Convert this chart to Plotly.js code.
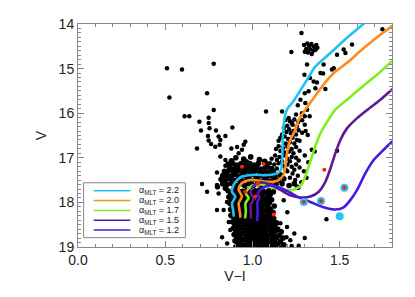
<!DOCTYPE html>
<html>
<head>
<meta charset="utf-8">
<script src="https://cdn.plot.ly/plotly-3.0.1.min.js"></script>
<style>
  html, body { margin: 0; padding: 0; background: #fff; }
  #cmd { width: 415px; height: 297px; }
</style>
</head>
<body>
<div id="cmd"></div>
<script>
// isochrone labels and colours (legend order)
const alphaLabels = ['2.2', '2.0', '1.7', '1.5', '1.2'];
const lineColors = ['#1fc3f2', '#ff8a1e', '#80ee1e', '#5c1a94', '#4a16e4'];

// isochrones, V-I and V
const a22VI = [1.645,1.542,1.447,1.361,1.313,1.265,1.232,1.200,1.185,1.176,1.172,1.170,1.165,1.150,1.110,1.070,1.020,0.978,0.940,0.912,0.892,0.883,0.902,0.883,0.890,0.893];
const a22V  = [13.97,14.31,14.65,14.95,15.25,15.55,15.75,15.90,16.10,16.40,16.80,17.10,17.25,17.33,17.38,17.39,17.38,17.39,17.42,17.50,17.61,17.76,17.87,18.02,18.20,18.32];
const a20VI = [1.820,1.733,1.638,1.542,1.466,1.399,1.351,1.303,1.265,1.246,1.217,1.198,1.189,1.178,1.150,1.112,1.070,1.036,0.985,0.950,0.928,0.921,0.940,0.921,0.928,0.931];
const a20V  = [13.99,14.24,14.54,14.87,15.10,15.40,15.66,15.92,16.15,16.37,16.60,16.90,17.20,17.38,17.50,17.54,17.53,17.51,17.50,17.54,17.62,17.72,17.87,18.02,18.22,18.34];
const a17VI = [1.830,1.800,1.714,1.619,1.542,1.475,1.435,1.390,1.355,1.335,1.320,1.305,1.275,1.230,1.170,1.110,1.050,1.000,0.975,0.962,0.978,0.960,0.962,0.958];
const a17V  = [14.79,14.84,15.14,15.44,15.70,15.92,16.15,16.45,16.80,17.05,17.22,17.40,17.63,17.72,17.72,17.66,17.60,17.62,17.70,17.80,17.90,18.02,18.20,18.36];
const a15VI = [1.820,1.800,1.733,1.660,1.600,1.542,1.504,1.475,1.447,1.418,1.380,1.332,1.275,1.217,1.160,1.100,1.050,1.015,0.995,0.990,1.007,0.990,0.990,0.992];
const a15V  = [15.43,15.47,15.70,15.92,16.11,16.34,16.60,16.90,17.24,17.54,17.76,17.87,17.89,17.84,17.72,17.60,17.55,17.60,17.70,17.80,17.91,18.06,18.20,18.36];
const a12VI = [1.820,1.800,1.752,1.695,1.647,1.600,1.561,1.523,1.475,1.408,1.332,1.256,1.198,1.150,1.103,1.074,1.045,1.030,1.040,1.028,1.030,1.026];
const a12V  = [16.57,16.64,16.82,17.05,17.35,17.72,17.95,18.11,18.16,18.11,17.99,17.87,17.74,17.66,17.62,17.65,17.72,17.80,17.90,18.00,18.20,18.42];

// stars [V-I, V]
const fieldStars = [
  [0.510,14.99],[0.596,15.02],[0.778,14.89],[0.524,15.65],[0.740,15.55],[0.778,15.93],
  [0.611,16.07],[0.638,16.07],[0.696,16.19],[0.749,16.10],[0.749,16.22],[0.754,16.34],[0.705,16.39],[0.791,16.39],[0.885,16.32],
  [0.745,16.51],[0.806,16.52],[0.845,16.51],[0.749,16.61],[0.763,16.69],[0.816,16.60],[0.787,16.75],[0.812,16.71],[0.682,16.79],
  [0.879,16.79],[0.912,16.76],[0.950,16.71],[0.959,16.64],[0.940,16.82],[0.816,16.97],[0.921,16.90],[0.845,17.05],[0.845,17.18],
  [0.892,17.24],[0.797,17.33],[0.854,17.42],[0.711,17.59],[0.740,17.76],[0.797,17.61],[0.806,17.80],[0.854,17.99],[0.835,18.17],
  [0.797,18.17],[0.873,18.29],[0.864,18.44],[0.873,18.62],[0.826,18.78],[0.855,18.92],
  [1.078,15.96],[1.170,15.96],[1.485,16.84],[1.357,16.86],[1.340,16.82],[1.424,18.38],[1.179,17.95],[1.160,18.47],
  [1.198,18.55],[1.217,18.85],[1.240,18.70],[1.265,18.97],[1.200,18.22],[1.300,18.80],[1.225,18.98],[1.195,18.78]
];
const giantStars = [
  [1.281,14.20],[1.223,14.63],[1.745,14.12],[1.296,14.47],[1.314,14.44],[1.326,14.50],[1.338,14.45],[1.352,14.51],[1.366,14.47],
  [1.308,14.56],[1.331,14.57],[1.349,14.60],[1.318,14.64],[1.340,14.67],[1.362,14.58],[1.300,14.62],[1.372,14.53],
  [1.571,14.46],[1.523,14.57],[1.533,14.65],[1.485,14.69],[1.408,14.91],[1.313,14.91],[1.390,15.10],[1.405,15.11],[1.456,15.02],
  [1.466,14.99],[1.298,15.14],[1.330,15.21],[1.351,15.29],[1.370,15.31],[1.361,15.44],[1.418,15.46],[1.322,15.51],[1.300,15.55],
  [1.275,15.70],[1.303,15.77],[1.313,15.92],[1.260,15.82],[1.284,16.00],[1.208,16.11],[1.227,16.22],[1.250,16.03],[1.300,16.07],
  [1.328,16.07],[1.317,16.49],
  [1.190,16.15],[1.215,16.18],[1.240,16.14],[1.262,16.20],[1.285,16.16],[1.230,16.26],[1.200,16.28],[1.255,16.30],[1.300,16.26],[1.180,16.33],
  [1.210,16.36],[1.235,16.40],[1.265,16.38],[1.220,16.45],[1.195,16.42],[1.250,16.48],[1.285,16.44],[1.170,16.48],[1.305,16.40],
  [1.160,16.55],[1.185,16.52],[1.205,16.58],[1.230,16.55],[1.255,16.60],[1.215,16.65],[1.190,16.68],[1.240,16.68],[1.270,16.62],[1.150,16.62],
  [1.150,16.74],[1.175,16.78],[1.200,16.75],[1.225,16.80],[1.250,16.76],[1.210,16.86],[1.185,16.88],[1.160,16.85],[1.235,16.90],[1.135,16.80],[1.270,16.84],
  [1.130,16.95],[1.155,16.98],[1.180,16.95],[1.200,17.02],[1.225,16.98],[1.250,17.00],[1.140,17.05],[1.170,17.08],[1.215,17.08],[1.110,17.02],[1.265,17.06],
  [1.100,17.12],[1.125,17.15],[1.150,17.12],[1.175,17.18],[1.200,17.15],[1.225,17.20],[1.250,17.15],[1.090,17.22],[1.140,17.24],[1.190,17.26],[1.240,17.27],[1.270,17.22],
  [1.300,16.95],[1.320,17.10],[1.295,17.30],[1.310,17.45],[1.200,17.30],[1.230,17.35],[1.260,17.40],[1.215,17.45],[1.245,17.50],[1.280,17.55]
];
const turnoffStars = [
  [0.905,17.00],[0.950,17.03],[0.990,16.98],[1.040,17.04],[0.880,17.07],[0.965,17.09],[1.070,17.08],
  [0.860,17.14],[0.885,17.12],[0.910,17.16],[0.935,17.13],[0.960,17.17],[0.985,17.13],[1.010,17.16],[1.035,17.12],[1.085,17.14],
  [0.870,17.22],[0.900,17.24],[0.925,17.21],[0.950,17.25],[0.975,17.22],[1.000,17.24],[1.025,17.21],[1.050,17.25],[1.075,17.22],[1.110,17.24],
  [0.840,17.30],[0.865,17.28],[0.890,17.32],[0.915,17.29],[0.940,17.33],[0.965,17.30],[0.990,17.33],[1.015,17.29],[1.040,17.33],[1.065,17.30],[1.090,17.33],[1.120,17.31],
  [0.830,17.40],[0.855,17.38],[0.880,17.41],[0.905,17.38],[0.930,17.42],[0.955,17.39],[0.980,17.42],[1.005,17.38],[1.030,17.42],[1.055,17.39],[1.080,17.42],[1.105,17.39],[1.130,17.41],[1.160,17.38],
  [0.820,17.48],[0.845,17.50],[0.870,17.47],[0.895,17.51],[0.920,17.48],[0.945,17.52],[0.970,17.48],[0.995,17.52],[1.020,17.48],[1.045,17.52],[1.070,17.49],[1.095,17.52],[1.120,17.48],[1.150,17.50],[1.180,17.47],
  [0.830,17.58],[0.855,17.60],[0.880,17.57],[0.905,17.61],[0.930,17.58],[0.955,17.62],[0.980,17.58],[1.005,17.62],[1.030,17.58],[1.055,17.61],[1.080,17.58],[1.105,17.62],[1.135,17.60],[1.170,17.58],[1.210,17.62],[1.240,17.58],[1.260,17.66],
  [0.800,17.65],[0.845,17.68],[0.895,17.68]
];
const mainSeqStars = [
  [0.860,17.74],[0.887,17.76],[0.913,17.72],[0.942,17.75],[0.968,17.73],[0.988,17.76],[1.017,17.74],[1.043,17.72],[1.062,17.75],[1.093,17.74],[1.120,17.76],
  [0.875,17.81],[0.899,17.83],[0.926,17.79],[0.948,17.82],[0.978,17.81],[1.002,17.79],[1.024,17.83],[1.052,17.81],[1.072,17.79],[1.103,17.82],
  [0.865,17.88],[0.892,17.90],[0.914,17.86],[0.942,17.89],[0.962,17.87],[0.993,17.90],[1.013,17.86],[1.042,17.88],[1.064,17.90],[1.092,17.87],
  [0.880,17.95],[0.903,17.97],[0.932,17.93],[0.954,17.96],[0.982,17.94],[1.002,17.97],[1.032,17.95],[1.053,17.93],[1.083,17.96],[1.110,17.94],
  [0.870,18.02],[0.897,18.04],[0.919,18.00],[0.947,18.03],[0.968,18.01],[0.998,18.04],[1.018,18.02],[1.046,18.00],[1.068,18.03],[1.097,18.01],
  [0.885,18.09],[0.908,18.11],[0.937,18.07],[0.959,18.10],[0.987,18.08],[1.008,18.11],[1.038,18.09],[1.058,18.07],[1.087,18.10],[1.125,18.08],
  [0.875,18.16],[0.902,18.18],[0.924,18.14],[0.952,18.17],[0.973,18.15],[1.003,18.18],[1.023,18.16],[1.052,18.14],[1.074,18.17],[1.102,18.15],
  [0.890,18.23],[0.913,18.25],[0.943,18.21],[0.963,18.24],[0.992,18.22],[1.014,18.25],[1.042,18.23],[1.063,18.21],[1.093,18.24],[1.118,18.22],
  [0.880,18.30],[0.907,18.32],[0.929,18.28],[0.957,18.31],[0.978,18.29],[1.008,18.32],[1.028,18.30],[1.057,18.28],[1.079,18.31],[1.107,18.29],
  [0.895,18.37],[0.918,18.39],[0.948,18.35],[0.968,18.38],[0.997,18.36],[1.019,18.39],[1.047,18.37],[1.068,18.35],[1.098,18.38],[1.122,18.36],
  [0.885,18.44],[0.912,18.46],[0.934,18.42],[0.962,18.45],[0.983,18.43],[1.013,18.46],[1.033,18.44],[1.062,18.42],[1.084,18.45],[1.112,18.43],[1.138,18.46],
  [0.900,18.51],[0.923,18.53],[0.953,18.49],[0.973,18.52],[1.002,18.50],[1.024,18.53],[1.052,18.51],[1.073,18.49],[1.103,18.52],[1.128,18.50],
  [0.890,18.58],[0.917,18.60],[0.939,18.56],[0.967,18.59],[0.988,18.57],[1.018,18.60],[1.038,18.58],[1.067,18.56],[1.089,18.59],[1.117,18.57],[1.145,18.60],
  [0.905,18.65],[0.928,18.67],[0.958,18.63],[0.978,18.66],[1.007,18.64],[1.029,18.67],[1.057,18.65],[1.078,18.63],[1.108,18.66],[1.132,18.64],[1.165,18.66],
  [0.895,18.72],[0.922,18.74],[0.944,18.70],[0.972,18.73],[0.993,18.71],[1.023,18.74],[1.043,18.72],[1.072,18.70],[1.094,18.73],[1.122,18.71],[1.155,18.74],
  [0.910,18.79],[0.933,18.81],[0.963,18.77],[0.983,18.80],[1.012,18.78],[1.034,18.81],[1.062,18.79],[1.083,18.77],[1.113,18.80],[1.140,18.78],[1.175,18.80],
  [0.900,18.86],[0.927,18.88],[0.949,18.84],[0.977,18.87],[0.998,18.85],[1.028,18.88],[1.048,18.86],[1.077,18.84],[1.099,18.87],[1.127,18.85],[1.160,18.88],
  [0.915,18.93],[0.938,18.95],[0.968,18.91],[0.988,18.94],[1.017,18.92],[1.039,18.95],[1.067,18.93],[1.088,18.91],[1.118,18.94],[1.145,18.92],[1.180,18.95],
  [0.905,19.00],[0.932,19.02],[0.954,18.98],[0.982,19.01],[1.003,18.99],[1.033,19.02],[1.053,19.00],[1.082,18.98],[1.104,19.01],[1.132,18.99],[1.165,19.02]
];
// highlighted stars
const redStars = [[0.940,17.20],[1.064,17.14],[1.412,17.27],[0.959,17.76],[1.017,17.87],[1.032,17.57],[1.122,18.27],[1.294,17.99],[1.393,17.97],[1.527,17.67]];
const ringStars = [[1.294,17.99],[1.393,17.97],[1.527,17.67],[1.500,18.31]];

const sparseBlack = fieldStars.concat(giantStars);
const denseBlack = turnoffStars.concat(mainSeqStars);

const traces = [{
  x: sparseBlack.map(s => s[0]),
  y: sparseBlack.map(s => s[1]),
  type: 'scatter',
  mode: 'markers',
  marker: { color: '#000', size: 4.5 },
  showlegend: false
}, {
  x: denseBlack.map(s => s[0]),
  y: denseBlack.map(s => s[1]),
  type: 'scatter',
  mode: 'markers',
  marker: { color: '#000', size: 5.6 },
  showlegend: false
}];

const isoVI = [a22VI, a20VI, a17VI, a15VI, a12VI];
const isoV = [a22V, a20V, a17V, a15V, a12V];
isoVI.forEach((xs, i) => {
  traces.push({
    x: xs,
    y: isoV[i],
    type: 'scatter',
    mode: 'lines',
    line: { color: lineColors[i], width: 2.6, shape: 'spline', smoothing: 0.6 },
    showlegend: false
  });
});

traces.push({
  x: ringStars.map(s => s[0]),
  y: ringStars.map(s => s[1]),
  type: 'scatter',
  mode: 'markers',
  marker: { color: '#22c6f4', size: 8 },
  showlegend: false
});
traces.push({
  x: redStars.map(s => s[0]),
  y: redStars.map(s => s[1]),
  type: 'scatter',
  mode: 'markers',
  marker: { color: '#ff2200', size: 4 },
  showlegend: false
});

// hand-drawn legend box, IDL style
const rowY = [0.252, 0.208, 0.164, 0.120, 0.076];
const shapes = [{
  type: 'rect', xref: 'paper', yref: 'paper',
  x0: 0.018, x1: 0.342, y0: 0.042, y1: 0.288,
  line: { color: '#888', width: 1 }, fillcolor: '#fff', layer: 'above'
}];
const annotations = [];
alphaLabels.forEach((lab, i) => {
  shapes.push({
    type: 'line', xref: 'paper', yref: 'paper',
    x0: 0.050, x1: 0.167, y0: rowY[i], y1: rowY[i],
    line: { color: lineColors[i], width: 1.5 }, layer: 'above'
  });
  annotations.push({
    xref: 'paper', yref: 'paper', x: 0.187, y: rowY[i],
    xanchor: 'left', yanchor: 'middle', showarrow: false,
    text: '\u03b1<sub>MLT</sub>\u00a0=\u00a0' + lab,
    font: { family: 'Liberation Sans, Arial, sans-serif', size: 9, color: '#222' }
  });
});

const axisStyle = {
  ticks: 'inside', ticklen: 6, tickcolor: '#888', tickwidth: 1,
  linecolor: '#888', linewidth: 1, mirror: 'allticks',
  showgrid: false, zeroline: false,
  tickfont: { family: 'Liberation Sans, Arial, sans-serif', size: 14, color: '#222' },
  minor: { dtick: 0.1, ticks: 'inside', ticklen: 3, tickcolor: '#888' }
};

const layout = {
  width: 415, height: 297,
  margin: { l: 78, r: 23, t: 24, b: 50 },
  paper_bgcolor: '#fff', plot_bgcolor: '#fff',
  xaxis: Object.assign({}, axisStyle, {
    range: [0, 1.8], tickvals: [0, 0.5, 1.0, 1.5], tickformat: '.1f',
    title: { text: 'V\u2212I', font: { family: 'Liberation Sans, Arial, sans-serif', size: 14, color: '#222' }, standoff: 4 }
  }),
  yaxis: Object.assign({}, axisStyle, {
    range: [19, 14], tick0: 14, dtick: 1,
    title: { text: 'V', font: { family: 'Liberation Sans, Arial, sans-serif', size: 14, color: '#222' }, standoff: 8 }
  }),
  shapes: shapes,
  annotations: annotations,
  showlegend: false
};

Plotly.newPlot('cmd', traces, layout, { displayModeBar: false, staticPlot: true });
</script>
</body>
</html>
